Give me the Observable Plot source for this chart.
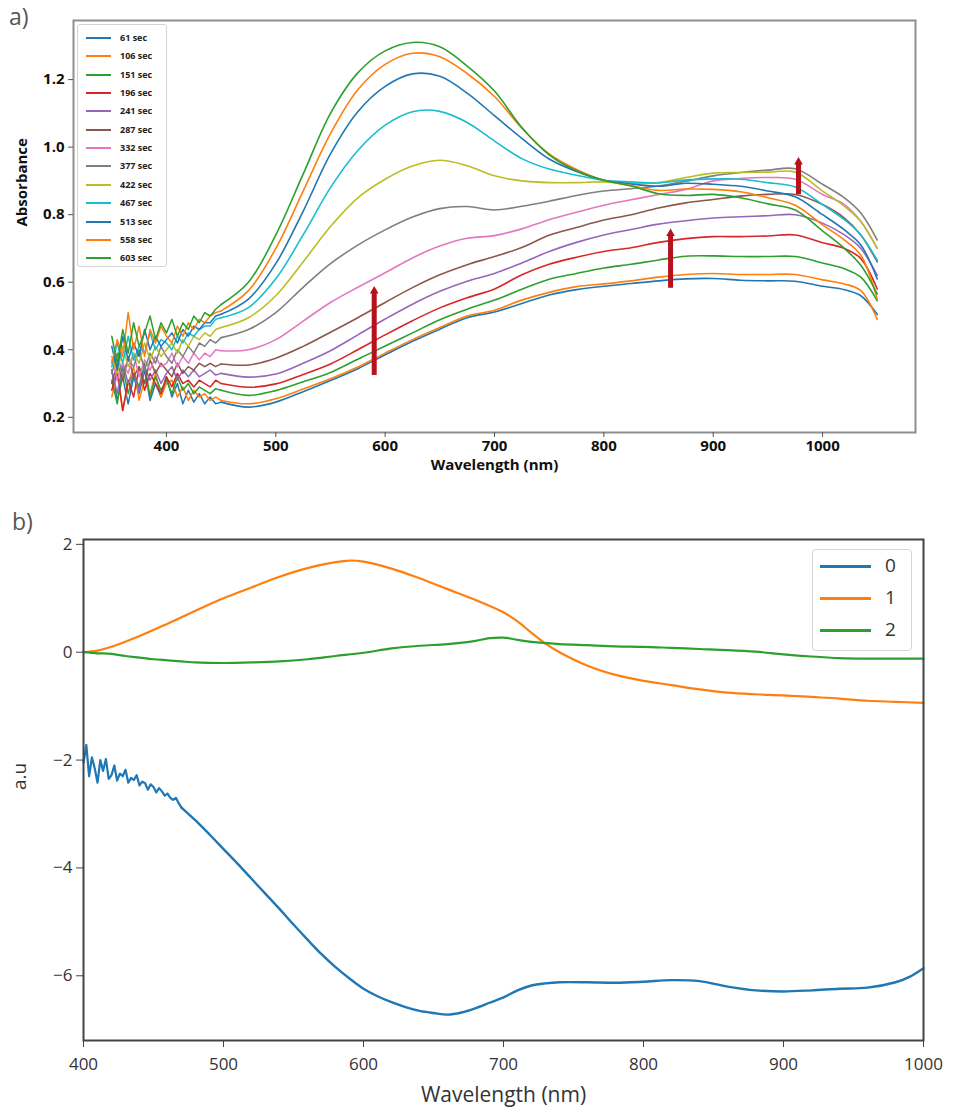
<!DOCTYPE html>
<html>
<head>
<meta charset="utf-8">
<script src="https://cdn.jsdelivr.net/npm/d3@7"></script>
<script src="https://cdn.jsdelivr.net/npm/@observablehq/plot@0.6"></script>
<style>
  html, body { margin: 0; padding: 0; background: #fff; }
  #wrap { position: relative; width: 955px; height: 1113px; overflow: hidden; font-family: "Open Sans", sans-serif; }
  .panel { position: absolute; left: 0; }
  .tag { position: absolute; font-family: "Open Sans", sans-serif; font-size: 23px; line-height: 30px; color: #555; }
  .legA { position: absolute; left: 77px; top: 24px; width: 90px; height: 243px; border: 1px solid #d4d4d4; border-radius: 3px; background: rgba(255,255,255,0.85); box-sizing: border-box; }
  .legA .row { position: absolute; left: 0; height: 12px; font-family: "Open Sans", sans-serif; font-weight: bold; font-size: 9px; color: #222; }
  .legA .sw { position: absolute; left: 8px; top: 5px; width: 25px; height: 2px; }
  .legA .lb { position: absolute; left: 42px; top: -1px; white-space: nowrap; }
  .legB { position: absolute; left: 812px; top: 549px; width: 100px; height: 102px; border: 1px solid #d6d6d6; border-radius: 4px; background: rgba(255,255,255,0.85); box-sizing: border-box; }
  .legB .row { position: absolute; left: 0; height: 22px; font-family: "Open Sans", sans-serif; font-size: 19px; color: #333; }
  .legB .sw { position: absolute; left: 7px; top: 10px; width: 51px; height: 2.5px; }
  .legB .lb { position: absolute; left: 72px; top: -3px; }
</style>
</head>
<body>
<div id="wrap"></div>
<script>
// ---------------- Panel a data ----------------
const wlA = [350,355,360,365,370,375,380,385,390,395,400,405,410,415,420,425,430,435,440,445,450,
             475,500,525,550,575,600,625,650,675,700,725,750,775,800,825,850,875,900,925,950,975,1000,1020,1035,1050];
const NOISY_END = 20; // index of 450 nm: noisy region drawn straight, smooth region curved
const timesA = ["61 sec","106 sec","151 sec","196 sec","241 sec","287 sec","332 sec","377 sec","422 sec","467 sec","513 sec","558 sec","603 sec"];
const colorsA = ["#1f77b4","#ff7f0e","#2ca02c","#d62728","#9467bd","#8c564b","#e377c2","#7f7f7f","#bcbd22","#17becf","#1f77b4","#ff7f0e","#2ca02c"];
const s61  = [0.34,0.25,0.32,0.24,0.32,0.27,0.34,0.25,0.30,0.26,0.32,0.26,0.30,0.24,0.28,0.245,0.27,0.24,0.26,0.24,0.245,
              0.23,0.245,0.276,0.309,0.344,0.385,0.425,0.461,0.495,0.512,0.537,0.562,0.578,0.588,0.596,0.604,0.61,0.611,0.606,0.604,0.603,0.588,0.578,0.56,0.505];
const s106 = [0.26,0.33,0.22,0.30,0.35,0.25,0.31,0.27,0.33,0.26,0.30,0.31,0.26,0.29,0.25,0.28,0.26,0.27,0.25,0.26,0.25,
              0.24,0.255,0.284,0.314,0.349,0.39,0.43,0.466,0.50,0.517,0.547,0.57,0.587,0.595,0.604,0.615,0.623,0.626,0.623,0.623,0.623,0.607,0.595,0.575,0.49];
const s151 = [0.31,0.24,0.35,0.27,0.33,0.29,0.36,0.26,0.32,0.28,0.31,0.27,0.32,0.28,0.30,0.27,0.29,0.28,0.27,0.285,0.28,
              0.265,0.279,0.305,0.333,0.372,0.411,0.45,0.489,0.52,0.547,0.579,0.609,0.626,0.642,0.653,0.666,0.677,0.678,0.676,0.676,0.676,0.657,0.64,0.615,0.545];
const s196 = [0.28,0.34,0.22,0.31,0.26,0.35,0.28,0.33,0.30,0.27,0.32,0.29,0.33,0.30,0.31,0.29,0.31,0.30,0.29,0.31,0.30,
              0.289,0.299,0.327,0.358,0.40,0.444,0.486,0.524,0.554,0.58,0.622,0.653,0.674,0.691,0.702,0.718,0.729,0.735,0.735,0.737,0.74,0.717,0.70,0.67,0.58];
const s241 = [0.34,0.27,0.36,0.30,0.33,0.28,0.35,0.31,0.34,0.30,0.33,0.35,0.31,0.34,0.32,0.34,0.32,0.33,0.34,0.325,0.33,
              0.319,0.328,0.36,0.397,0.444,0.491,0.535,0.573,0.603,0.626,0.657,0.691,0.718,0.74,0.756,0.772,0.782,0.79,0.794,0.797,0.80,0.775,0.74,0.70,0.62];
const s287 = [0.30,0.36,0.31,0.38,0.32,0.35,0.30,0.37,0.33,0.36,0.34,0.32,0.36,0.33,0.35,0.34,0.36,0.35,0.36,0.35,0.358,
              0.355,0.375,0.41,0.452,0.495,0.54,0.584,0.622,0.652,0.676,0.703,0.739,0.762,0.784,0.80,0.82,0.835,0.845,0.855,0.86,0.86,0.83,0.79,0.74,0.66];
const s332 = [0.37,0.31,0.36,0.33,0.39,0.32,0.37,0.34,0.38,0.35,0.36,0.39,0.35,0.38,0.36,0.39,0.37,0.39,0.38,0.40,0.397,
              0.40,0.43,0.485,0.54,0.585,0.628,0.672,0.707,0.73,0.738,0.758,0.785,0.807,0.828,0.844,0.86,0.875,0.90,0.907,0.91,0.905,0.86,0.83,0.78,0.70];
const s377 = [0.33,0.39,0.32,0.37,0.35,0.40,0.34,0.39,0.36,0.41,0.38,0.36,0.40,0.38,0.41,0.39,0.42,0.41,0.43,0.42,0.436,
              0.46,0.51,0.585,0.655,0.71,0.755,0.793,0.818,0.824,0.814,0.825,0.84,0.857,0.87,0.877,0.885,0.899,0.915,0.925,0.932,0.936,0.89,0.85,0.805,0.725];
const s422 = [0.38,0.33,0.41,0.35,0.39,0.36,0.42,0.37,0.41,0.38,0.40,0.42,0.39,0.43,0.41,0.44,0.43,0.45,0.44,0.46,0.466,
              0.495,0.56,0.66,0.765,0.85,0.905,0.944,0.961,0.945,0.915,0.90,0.895,0.895,0.897,0.892,0.895,0.91,0.923,0.925,0.926,0.926,0.87,0.825,0.78,0.70];
const s467 = [0.35,0.42,0.36,0.44,0.37,0.41,0.39,0.45,0.40,0.43,0.42,0.40,0.44,0.42,0.45,0.44,0.46,0.47,0.47,0.49,0.495,
              0.525,0.61,0.74,0.88,0.99,1.065,1.105,1.106,1.073,1.018,0.966,0.935,0.917,0.902,0.897,0.894,0.903,0.906,0.905,0.895,0.882,0.83,0.785,0.74,0.665];
const s513 = [0.41,0.34,0.44,0.37,0.42,0.38,0.46,0.40,0.44,0.41,0.43,0.45,0.42,0.46,0.44,0.47,0.46,0.48,0.48,0.50,0.505,
              0.55,0.655,0.81,0.98,1.105,1.18,1.217,1.21,1.16,1.093,1.026,0.965,0.928,0.902,0.891,0.884,0.893,0.89,0.884,0.87,0.853,0.80,0.755,0.71,0.61];
const s558 = [0.36,0.43,0.38,0.51,0.40,0.47,0.38,0.46,0.42,0.47,0.44,0.42,0.47,0.44,0.48,0.46,0.49,0.48,0.50,0.51,0.515,
              0.575,0.70,0.87,1.04,1.17,1.245,1.278,1.268,1.218,1.15,1.056,0.98,0.934,0.902,0.886,0.872,0.876,0.875,0.868,0.85,0.828,0.77,0.725,0.68,0.55];
const s603 = [0.44,0.36,0.46,0.39,0.48,0.41,0.45,0.50,0.43,0.48,0.45,0.49,0.44,0.48,0.46,0.50,0.48,0.51,0.50,0.52,0.534,
              0.60,0.74,0.92,1.10,1.22,1.285,1.31,1.297,1.24,1.166,1.058,0.977,0.93,0.902,0.885,0.862,0.857,0.86,0.85,0.832,0.814,0.752,0.70,0.65,0.565];
const seriesA = [s61,s106,s151,s196,s241,s287,s332,s377,s422,s467,s513,s558,s603];
const xTicksA = [400,500,600,700,800,900,1000];
const yTicksA = [0.2,0.4,0.6,0.8,1.0,1.2];
// red arrows (wavelength, from absorbance, to absorbance)
const arrowX  = [590, 861, 978];
const arrowY1 = [0.324, 0.582, 0.859];
const arrowY2 = [0.574, 0.744, 0.956];

// ---------------- Panel b data ----------------
const wl0 = [400,402,404,406,408,410,412,414,416,418,420,422,424,426,428,430,432,434,436,438,440,442,444,446,448,450,452,454,456,458,460,462,464,466,468,470,
             480,490,500,510,520,530,540,550,560,570,580,590,600,610,620,630,640,650,660,670,680,690,700,710,720,730,740,760,780,800,820,840,860,880,900,920,940,960,980,990,1000];
const NOISY0_END = 35; // index of 470 nm
const c0  = [-2.05,-1.72,-2.3,-1.95,-2.15,-2.42,-2.0,-2.2,-1.98,-2.35,-2.28,-2.1,-2.38,-2.25,-2.3,-2.18,-2.42,-2.33,-2.37,-2.28,-2.47,-2.4,-2.43,-2.55,-2.45,-2.5,-2.6,-2.52,-2.58,-2.66,-2.62,-2.7,-2.74,-2.7,-2.8,-2.88,
             -3.12,-3.38,-3.65,-3.92,-4.2,-4.48,-4.76,-5.05,-5.33,-5.6,-5.84,-6.05,-6.24,-6.38,-6.49,-6.58,-6.65,-6.69,-6.72,-6.68,-6.6,-6.5,-6.4,-6.27,-6.18,-6.14,-6.12,-6.12,-6.13,-6.11,-6.08,-6.1,-6.2,-6.27,-6.29,-6.27,-6.24,-6.22,-6.12,-6.02,-5.86];
const wl1 = [400,410,420,440,460,480,500,520,540,560,580,590,600,620,640,660,680,700,710,720,730,740,760,780,800,820,840,860,880,900,920,940,960,980,1000];
const c1  = [0.0,0.03,0.10,0.30,0.53,0.77,1.0,1.2,1.4,1.56,1.67,1.70,1.68,1.55,1.37,1.17,0.97,0.74,0.57,0.36,0.16,0.0,-0.25,-0.42,-0.53,-0.61,-0.69,-0.75,-0.78,-0.80,-0.83,-0.86,-0.90,-0.92,-0.94];
const wl2 = [400,410,420,430,440,450,460,470,480,500,520,540,560,580,600,620,640,660,680,690,700,710,720,740,760,780,800,820,840,860,880,900,920,940,960,980,1000];
const c2  = [0.0,-0.02,-0.03,-0.07,-0.10,-0.13,-0.15,-0.17,-0.19,-0.20,-0.19,-0.17,-0.13,-0.07,-0.01,0.07,0.12,0.15,0.21,0.26,0.27,0.23,0.19,0.15,0.13,0.11,0.10,0.08,0.06,0.04,0.01,-0.04,-0.08,-0.11,-0.12,-0.12,-0.12];
const namesB = ["0","1","2"];
const colorsB = ["#1f77b4","#ff7f0e","#2ca02c"];
const xTicksB = [400,500,600,700,800,900,1000];
const yTicksB = [2,0,-2,-4,-6];

// ---------------- build ----------------
const wrap = document.getElementById("wrap");

const rowsA = seriesA.map((vals, i) => vals.map((v, j) => ({nm: wlA[j], abs: v, t: timesA[i]})));
const arrows = arrowX.map((x, i) => ({x, y1: arrowY1[i], y2: arrowY2[i]}));
const arrowRed = "#b5121b";

const linesA = [];
rowsA.forEach((rows, i) => {
  linesA.push(Plot.line(rows.slice(0, NOISY_END + 1), {x: "nm", y: "abs", stroke: colorsA[i], strokeWidth: 1.5}));
  linesA.push(Plot.line(rows.slice(NOISY_END), {x: "nm", y: "abs", stroke: colorsA[i], strokeWidth: 1.6, curve: "catmull-rom"}));
});

const plotA = Plot.plot({
  width: 955, height: 480,
  marginLeft: 73, marginRight: 40, marginTop: 20, marginBottom: 48,
  style: {fontFamily: "Open Sans", fontWeight: "bold", fontSize: "15px", color: "#111", background: "transparent", overflow: "visible"},
  x: {domain: [315, 1085]},
  y: {domain: [0.155, 1.375]},
  marks: [
    ...linesA,
    Plot.ruleX(arrows, {x: "x", y1: "y1", y2: "y2", stroke: arrowRed, strokeWidth: 5}),
    Plot.dot(arrows, {x: "x", y: "y2", symbol: "triangle", r: 3.2, fill: arrowRed, stroke: "none"}),
    Plot.frame({stroke: "#8f8f8f", strokeWidth: 2}),
    Plot.axisX({ticks: xTicksA, tickSize: 5, tickPadding: 3, label: null, stroke: "#555", tickFormat: d => String(d)}),
    Plot.axisY({ticks: yTicksA, tickSize: 5, tickPadding: 4, label: null, stroke: "#555", tickFormat: d => d.toFixed(1)}),
    Plot.text(["Wavelength (nm)"], {frameAnchor: "bottom", dy: 37, text: d => d, fontSize: 15, fontWeight: "bold"}),
    Plot.text(["Absorbance"], {frameAnchor: "left", dx: -51, rotate: -90, text: d => d, fontSize: 15, fontWeight: "bold"})
  ]
});
plotA.classList.add("panel");
plotA.style.top = "0px";
wrap.appendChild(plotA);

const rowsB = [
  wl0.map((x, j) => ({nm: x, v: c0[j]})),
  wl1.map((x, j) => ({nm: x, v: c1[j]})),
  wl2.map((x, j) => ({nm: x, v: c2[j]}))
];
const fmtMinus = d => d < 0 ? "\u2212" + Math.abs(d) : String(d);

const plotB = Plot.plot({
  width: 955, height: 623,
  marginLeft: 83, marginRight: 32, marginTop: 49, marginBottom: 73,
  style: {fontFamily: "Open Sans", fontSize: "17px", color: "#333", background: "transparent", overflow: "visible"},
  x: {domain: [400, 1000]},
  y: {domain: [-7.2, 2.09]},
  marks: [
    Plot.line(rowsB[0].slice(0, NOISY0_END + 1), {x: "nm", y: "v", stroke: colorsB[0], strokeWidth: 2.2}),
    Plot.line(rowsB[0].slice(NOISY0_END), {x: "nm", y: "v", stroke: colorsB[0], strokeWidth: 2.4, curve: "catmull-rom"}),
    Plot.line(rowsB[1], {x: "nm", y: "v", stroke: colorsB[1], strokeWidth: 2.2, curve: "catmull-rom"}),
    Plot.line(rowsB[2], {x: "nm", y: "v", stroke: colorsB[2], strokeWidth: 2.2, curve: "catmull-rom"}),
    Plot.frame({stroke: "#444", strokeWidth: 2}),
    Plot.axisX({ticks: xTicksB, tickSize: 7, tickPadding: 10, label: null, stroke: "#444", tickFormat: d => String(d)}),
    Plot.axisY({ticks: yTicksB, tickSize: 7, tickPadding: 4, label: null, stroke: "#444", tickFormat: fmtMinus}),
    Plot.text(["Wavelength (nm)"], {frameAnchor: "bottom", dy: 61, text: d => d, fontSize: 21}),
    Plot.text(["a.u"], {frameAnchor: "left", dx: -64, rotate: -90, text: d => d, fontSize: 19})
  ]
});
plotB.classList.add("panel");
plotB.style.top = "490px";
wrap.appendChild(plotB);

// panel tags
const ta = document.createElement("div"); ta.className = "tag"; ta.textContent = "a)"; ta.style.left = "9px"; ta.style.top = "1px"; wrap.appendChild(ta);
const tb = document.createElement("div"); tb.className = "tag"; tb.textContent = "b)"; tb.style.left = "12px"; tb.style.top = "506px"; wrap.appendChild(tb);

// legend a
const la = document.createElement("div"); la.className = "legA";
timesA.forEach((t, i) => {
  const r = document.createElement("div"); r.className = "row"; r.style.top = (7 + i * 18.35) + "px"; r.style.width = "88px";
  const sw = document.createElement("div"); sw.className = "sw"; sw.style.background = colorsA[i];
  const lb = document.createElement("div"); lb.className = "lb"; lb.textContent = t;
  r.appendChild(sw); r.appendChild(lb); la.appendChild(r);
});
wrap.appendChild(la);

// legend b
const lbx = document.createElement("div"); lbx.className = "legB";
namesB.forEach((n, i) => {
  const r = document.createElement("div"); r.className = "row"; r.style.top = (5 + i * 32) + "px"; r.style.width = "98px";
  const sw = document.createElement("div"); sw.className = "sw"; sw.style.background = colorsB[i];
  const lb = document.createElement("div"); lb.className = "lb"; lb.textContent = n;
  r.appendChild(sw); r.appendChild(lb); lbx.appendChild(r);
});
wrap.appendChild(lbx);
</script>
</body>
</html>
